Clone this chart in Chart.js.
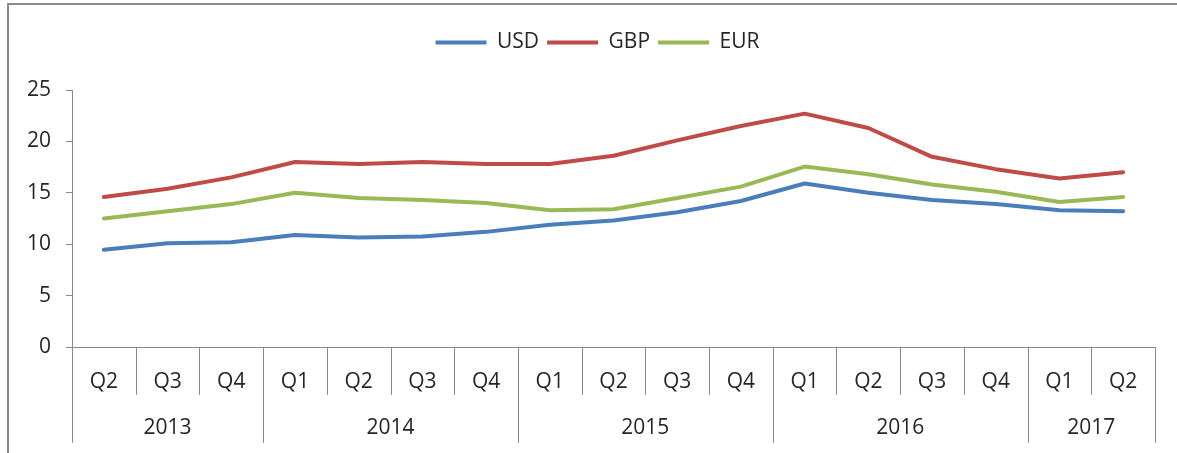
<!DOCTYPE html>
<html>
<head>
<meta charset="utf-8">
<script src="https://cdn.jsdelivr.net/npm/chart.js@4/dist/chart.umd.min.js"></script>
<style>
	body { margin: 0; background: #fff; overflow: hidden; }
	#frame { position: absolute; left: 7px; top: 3px; width: 1300px; height: 600px; border-left: 2px solid #8a8a8a; border-top: 2px solid #8a8a8a; }
	#wrap { position: absolute; left: 0; top: 0; width: 1177px; height: 453px; }
</style>
</head>
<body>
<div id="frame"></div>
<div id="wrap"><canvas id="myChart"></canvas></div>
<script>
var quarters = ['Q2', 'Q3', 'Q4', 'Q1', 'Q2', 'Q3', 'Q4', 'Q1', 'Q2', 'Q3', 'Q4', 'Q1', 'Q2', 'Q3', 'Q4', 'Q1', 'Q2']
var years = ['2013', '2014', '2015', '2016', '2017']
var yearSpans = [3, 4, 4, 4, 2]

var usd = [9.45, 10.1, 10.2, 10.9, 10.65, 10.75, 11.2, 11.9, 12.3, 13.1, 14.2, 15.9, 15.0, 14.3, 13.9, 13.3, 13.2]
var gbp = [14.6, 15.4, 16.5, 18.0, 17.8, 18.0, 17.8, 17.8, 18.6, 20.1, 21.5, 22.7, 21.3, 18.5, 17.3, 16.4, 17.0]
var eur = [12.5, 13.2, 13.9, 15.0, 14.5, 14.3, 14.0, 13.3, 13.4, 14.5, 15.6, 17.55, 16.8, 15.8, 15.1, 14.1, 14.6]

var axisColor = '#8a8a8a'
var textColor = '#262626'
var fontFamily = '"Open Sans", "Liberation Sans", sans-serif'
var fontSize = 21

Chart.defaults.font.family = fontFamily
Chart.defaults.font.size = fontSize
Chart.defaults.color = textColor

/* legend: taller box so plot starts lower, and nudged right like the original */
var legendSpace = {
	id: 'legendSpace',
	beforeInit: function(chart) {
		var oldFit = chart.legend.fit
		chart.legend.fit = function() {
			oldFit.bind(chart.legend)()
			this.height = 66
		}
	},
	afterLayout: function(chart) {
		chart.legend.left += 30
		chart.legend.adjustHitBoxes()
	}
}

/* quarter / year separators and year labels under the x axis */
var groupAxis = {
	id: 'groupAxis',
	afterDraw: function(chart) {
		var ctx = chart.ctx
		var x = chart.scales.x
		var half = (x.getPixelForTick(1) - x.getPixelForTick(0)) / 2
		var top = x.top

		ctx.save()
		ctx.strokeStyle = axisColor
		ctx.lineWidth = 1

		for (var i = 1; i < quarters.length; i++) {
			var bx = Math.round(x.getPixelForTick(i) - half) + 0.5
			ctx.beginPath()
			ctx.moveTo(bx, top)
			ctx.lineTo(bx, top + 48)
			ctx.stroke()
		}

		var start = 0
		ctx.fillStyle = textColor
		ctx.font = fontSize + 'px ' + fontFamily
		ctx.textAlign = 'center'
		ctx.textBaseline = 'middle'
		for (var j = 0; j <= years.length; j++) {
			var lx = j < years.length ? x.getPixelForTick(start) - half : x.getPixelForTick(quarters.length - 1) + half
			lx = Math.round(lx) + 0.5
			ctx.beginPath()
			ctx.moveTo(lx, top)
			ctx.lineTo(lx, top + 96)
			ctx.stroke()
			if (j < years.length) {
				var endIdx = start + yearSpans[j] - 1
				var cx = (x.getPixelForTick(start) + x.getPixelForTick(endIdx)) / 2
				ctx.fillText(years[j], cx, top + 81)
				start += yearSpans[j]
			}
		}
		ctx.restore()
	}
}

function makeSet(label, data, color) {
	return {
		label: label,
		data: data,
		borderColor: color,
		backgroundColor: color,
		borderWidth: 4,
		pointRadius: 0,
		pointHoverRadius: 0,
		pointBorderWidth: 4,
		tension: 0,
		borderJoinStyle: 'round',
		borderCapStyle: 'round'
	}
}

var ctx = document.getElementById('myChart').getContext('2d')
var chart = new Chart(ctx, {
	type: 'line',
	data: {
		labels: quarters,
		datasets: [
			makeSet('USD', usd, '#4a7ebb'),
			makeSet('GBP', gbp, '#be4b48'),
			makeSet('EUR', eur, '#98b954')
		]
	},
	options: {
		responsive: true,
		maintainAspectRatio: false,
		animation: false,
		layout: { padding: { top: 24, left: 10, right: 22, bottom: 0 } },
		plugins: {
			legend: {
				position: 'top',
				labels: {
					usePointStyle: true,
					pointStyle: 'line',
					pointStyleWidth: 51,
					padding: 8,
					color: textColor,
					font: { size: fontSize }
				}
			},
			tooltip: { enabled: false }
		},
		scales: {
			x: {
				offset: true,
				grid: { display: false, offset: true },
				border: { display: true, color: axisColor, width: 1 },
				ticks: { padding: 14, maxRotation: 0, autoSkip: false },
				afterFit: function(s) { s.height = 106 }
			},
			y: {
				min: 0,
				max: 25,
				ticks: { stepSize: 5, padding: 15 },
				grid: { drawOnChartArea: false, drawTicks: true, tickLength: 6, color: axisColor },
				border: { display: true, color: axisColor, width: 1 },
				afterFit: function(s) { s.width = 62 }
			}
		}
	},
	plugins: [legendSpace, groupAxis]
})
</script>
</body>
</html>
